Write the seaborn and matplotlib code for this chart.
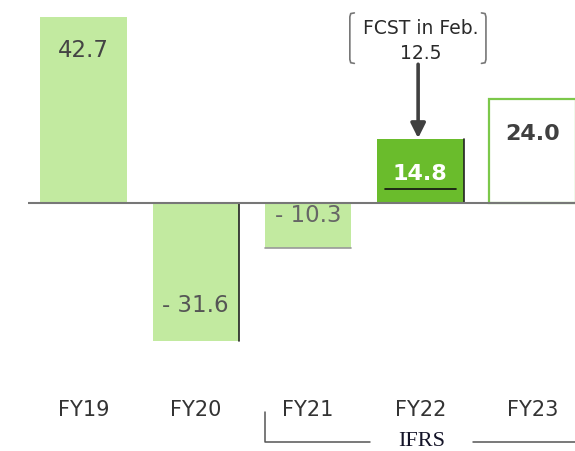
import matplotlib
matplotlib.use("Agg")
import matplotlib.pyplot as plt
import seaborn as sns

sns.set_style("white")
plt.rcParams["font.family"] = ["DejaVu Sans"]

# data
categories = ["FY19", "FY20", "FY21", "FY22", "FY23"]
values = [42.7, -31.6, -10.3, 14.8, 24.0]
bar_colors = ["#c2eaa0", "#c2eaa0", "#c2eaa0", "#6abc2c", "#ffffff"]
fcst_label = "FCST in Feb."
fcst_value = 12.5
ifrs_label = "IFRS"


def fmt(v):
    return f"- {abs(v):.1f}" if v < 0 else f"{v:.1f}"


fig = plt.figure(figsize=(5.75, 4.52), dpi=100)
ax = fig.add_axes([28 / 575, 0, 547 / 575, 1])

sns.barplot(x=categories, y=values, hue=categories, palette=bar_colors,
            legend=False, width=0.77, saturation=1, ax=ax, edgecolor="none")

patches = ax.patches
# FY23 forecast bar: white with green outline
patches[4].set_edgecolor("#7cc84a")
patches[4].set_linewidth(1.6)

# thin dark edges seen in the reference
for i in (1, 3):
    p = patches[i]
    xr = p.get_x() + p.get_width()
    ax.plot([xr, xr], [0, values[i]], color="#222222", lw=1.2, zorder=3)
p = patches[2]
ax.plot([p.get_x(), p.get_x() + p.get_width()], [values[2], values[2]],
        color="#999999", lw=1.2, zorder=3)

ax.set_xlim(-0.494, 4.377)
ax.set_ylim(-57.0, 46.9)
ax.axhline(0, color="#777777", lw=1.5, zorder=4)
ax.axis("off")

# value labels
ax.text(0, values[0] - 7.3, fmt(values[0]), ha="center", va="center",
        fontsize=16.5, color="#444444")
ax.text(1, values[1] + 8.2, fmt(values[1]), ha="center", va="center",
        fontsize=16.5, color="#555555")
ax.text(2, -2.6, fmt(values[2]), ha="center", va="center",
        fontsize=16.5, color="#666666", zorder=2)
ax.text(3, values[3] - 7.9, fmt(values[3]), ha="center", va="center",
        fontsize=16, color="white", fontweight="bold")
ax.plot([3 - 0.315, 3 + 0.315], [3.2, 3.2], color="#111111", lw=1.2, zorder=4)
ax.text(4, values[4] - 7.9, fmt(values[4]), ha="center", va="center",
        fontsize=16, color="#404040", fontweight="bold")

# forecast note with bracket and arrow
ax.text(3, 40.3, fcst_label, ha="center", va="center", fontsize=13.5, color="#2a2a2a")
ax.text(3, 34.5, f"{fcst_value:.1f}", ha="center", va="center", fontsize=13.5, color="#2a2a2a")
top, bot = 43.7, 32.1
for xe, hook in ((2.372, 0.04), (3.584, -0.04)):
    ax.plot([xe + hook, xe + hook * 0.2, xe, xe, xe + hook * 0.2, xe + hook],
            [top, top - 0.15, top - 0.9, bot + 0.9, bot + 0.15, bot],
            color="#777777", lw=1.2, solid_capstyle="round")
ax.annotate("", xy=(2.98, values[3] + 0.1), xytext=(2.98, 31.9),
            arrowprops=dict(arrowstyle="-|>", lw=2.6, color="#404040",
                            mutation_scale=22, shrinkA=0, shrinkB=0))

# category labels
for i, c in enumerate(categories):
    ax.text(i, -47.4, c, ha="center", va="center", fontsize=15, color="#333333")

# IFRS bracket
ax.plot([1.616, 1.616, 2.551], [-48.0, -54.9, -54.9], color="#555555", lw=1.1)
ax.plot([3.468, 4.377], [-54.9, -54.9], color="#555555", lw=1.1)
ax.text(3.014, -54.7, ifrs_label, ha="center", va="center", fontsize=16,
        color="#141428", family=["Liberation Serif", "DejaVu Serif"])

fig.savefig("out.png", dpi=100)
